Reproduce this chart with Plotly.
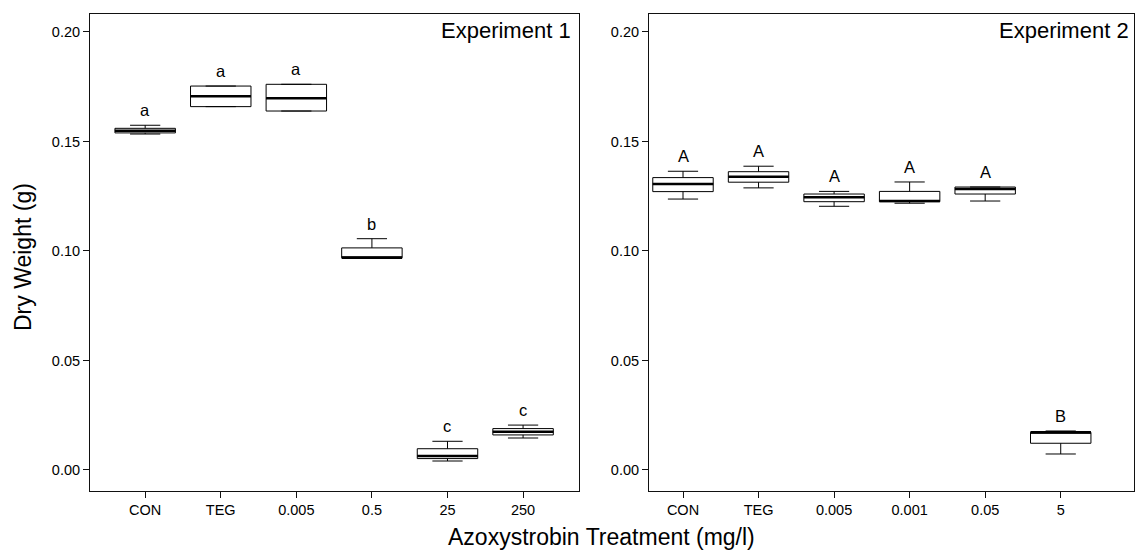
import plotly.graph_objects as go

# ---------------- data ----------------
cats1 = ["CON", "TEG", "0.005", "0.5", "25", "250"]
low1 = [0.1534, 0.1659, 0.1639, 0.0969, 0.0041, 0.0146]
q1_1 = [0.1539, 0.1659, 0.1639, 0.0969, 0.0052, 0.0160]
med1 = [0.1549, 0.1706, 0.1697, 0.0969, 0.0064, 0.0174]
q3_1 = [0.1560, 0.1753, 0.1761, 0.1014, 0.0097, 0.0189]
high1 = [0.1574, 0.1753, 0.1761, 0.1056, 0.0131, 0.0205]
letters1 = ["a", "a", "a", "b", "c", "c"]

cats2 = ["CON", "TEG", "0.005", "0.001", "0.05", "5"]
low2 = [0.1237, 0.1288, 0.1204, 0.1218, 0.1228, 0.0073]
q1_2 = [0.1271, 0.1314, 0.1225, 0.1225, 0.1260, 0.0122]
med2 = [0.1306, 0.1339, 0.1245, 0.1228, 0.1283, 0.0172]
q3_2 = [0.1335, 0.1362, 0.1260, 0.1272, 0.1292, 0.0172]
high2 = [0.1364, 0.1387, 0.1272, 0.1315, 0.1292, 0.0178]
letters2 = ["A", "A", "A", "A", "A", "B"]

y_ticks = [0.00, 0.05, 0.10, 0.15, 0.20]
y_ticktext = ["0.00", "0.05", "0.10", "0.15", "0.20"]

FONT = "Liberation Sans, Arial, sans-serif"
BOXW = 0.8

fig = go.Figure()

def add_panel(cats, low, q1, med, q3, high, letters, xa, ya):
    xs = list(range(len(cats)))
    fig.add_trace(go.Box(
        x=xs, q1=q1, median=med, q3=q3, lowerfence=low, upperfence=high,
        width=BOXW, whiskerwidth=0.5, fillcolor="white",
        line=dict(color="black", width=1), boxpoints=False,
        xaxis=xa, yaxis=ya, showlegend=False, hoverinfo="skip"))
    mx, my = [], []
    for i, m in zip(xs, med):
        mx += [i - BOXW / 2, i + BOXW / 2, None]
        my += [m, m, None]
    fig.add_trace(go.Scatter(x=mx, y=my, mode="lines",
                             line=dict(color="black", width=2.5),
                             xaxis=xa, yaxis=ya, showlegend=False, hoverinfo="skip"))
    for i, (h, t) in enumerate(zip(high, letters)):
        fig.add_annotation(x=i, y=h, text=t, showarrow=False, yanchor="bottom",
                           yshift=4, xref=xa, yref=ya,
                           font=dict(family=FONT, size=16.5, color="black"))

add_panel(cats1, low1, q1_1, med1, q3_1, high1, letters1, "x", "y")
add_panel(cats2, low2, q1_2, med2, q3_2, high2, letters2, "x2", "y2")

W, H = 1137, 555
ydom = [1 - 491 / H, 1 - 14 / H]
axis_common = dict(showline=True, mirror=True, linecolor="#111", linewidth=1,
                   ticks="outside", ticklen=6, tickcolor="#111", showgrid=False,
                   zeroline=False, tickfont=dict(family=FONT, size=14.5, color="black"))

fig.update_layout(
    width=W, height=H, margin=dict(l=0, r=0, t=0, b=0),
    paper_bgcolor="white", plot_bgcolor="white",
    xaxis=dict(domain=[90 / W, 579 / W], range=[-0.73, 5.74],
               tickvals=list(range(len(cats1))), ticktext=cats1, anchor="y", **axis_common),
    yaxis=dict(domain=ydom, range=[-0.0096, 0.2082], tickvals=y_ticks,
               ticktext=y_ticktext, anchor="x", **axis_common),
    xaxis2=dict(domain=[649 / W, 1134 / W], range=[-0.45, 5.97],
                tickvals=list(range(len(cats2))), ticktext=cats2, anchor="y2", **axis_common),
    yaxis2=dict(domain=ydom, range=[-0.0096, 0.2082], tickvals=y_ticks,
                ticktext=y_ticktext, anchor="x2", **axis_common),
)

fig.add_annotation(x=573 / W, y=1 - 30 / H, xref="paper", yref="paper",
                   text="Experiment 1", showarrow=False, xanchor="right", yanchor="middle",
                   font=dict(family=FONT, size=22, color="black"))
fig.add_annotation(x=1131 / W, y=1 - 30 / H, xref="paper", yref="paper",
                   text="Experiment 2", showarrow=False, xanchor="right", yanchor="middle",
                   font=dict(family=FONT, size=22, color="black"))
fig.add_annotation(x=601 / W, y=1 - 537 / H, xref="paper", yref="paper",
                   text="Azoxystrobin Treatment (mg/l)", showarrow=False,
                   xanchor="center", yanchor="middle",
                   font=dict(family=FONT, size=23, color="black"))
fig.add_annotation(x=23 / W, y=1 - 257 / H, xref="paper", yref="paper",
                   text="Dry Weight (g)", showarrow=False, textangle=-90,
                   xanchor="center", yanchor="middle",
                   font=dict(family=FONT, size=23, color="black"))

fig.write_html("out.html")
